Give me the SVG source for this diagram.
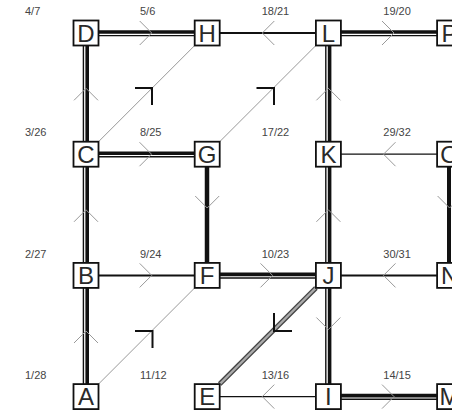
<svg xmlns="http://www.w3.org/2000/svg" width="452" height="412" viewBox="0 0 452 412">
<style>
.box{fill:#fff;stroke:#111;stroke-width:1.8}
.nl{font-family:"Liberation Sans",Arial,sans-serif;font-size:24px;fill:#2a2a2a;text-anchor:middle}
.lb{font-family:"Liberation Sans",Arial,sans-serif;font-size:11px;fill:#444}
.thk{stroke:#111;stroke-width:3.6;fill:none}
.thn{stroke:#111;stroke-width:1.4;fill:none}
.s2{stroke:#111;stroke-width:2;fill:none}
.s1{stroke:#111;stroke-width:1.2;fill:none}
.bold{stroke:#111;stroke-width:4.5;fill:none}
.gd{stroke:#999;stroke-width:1;fill:none}
.ch{stroke:#999;stroke-width:1;fill:none}
.bm{stroke:#111;stroke-width:2;fill:none}
</style>
<rect width="452" height="412" fill="#fff"/>
<g id="labels">
<text class="lb" x="25" y="15">4/7</text>
<text class="lb" x="140" y="15">5/6</text>
<text class="lb" x="261.7" y="15">18/21</text>
<text class="lb" x="383.3" y="15">19/20</text>
<text class="lb" x="25" y="136.4">3/26</text>
<text class="lb" x="140" y="136.4">8/25</text>
<text class="lb" x="261.7" y="136.4">17/22</text>
<text class="lb" x="383.3" y="136.4">29/32</text>
<text class="lb" x="25" y="257.8">2/27</text>
<text class="lb" x="140" y="257.8">9/24</text>
<text class="lb" x="261.7" y="257.8">10/23</text>
<text class="lb" x="383.3" y="257.8">30/31</text>
<text class="lb" x="25" y="379">1/28</text>
<text class="lb" x="140" y="379">11/12</text>
<text class="lb" x="261.7" y="379">13/16</text>
<text class="lb" x="383.3" y="379">14/15</text>
</g>
<g id="connectors">
<!-- double horizontal -->
<g id="e-D-H"><line class="thk" x1="86" y1="32" x2="207.2" y2="32"/><line class="thn" x1="86" y1="35.6" x2="207.2" y2="35.6"/><polyline class="ch" points="139.7,21 151.7,33 139.7,45"/></g>
<g id="e-L-P"><line class="thk" x1="328.4" y1="32" x2="449.6" y2="32"/><line class="thn" x1="328.4" y1="35.6" x2="449.6" y2="35.6"/><polyline class="ch" points="382,21 394,33 382,45"/></g>
<g id="e-C-G"><line class="thk" x1="86" y1="153.2" x2="207.2" y2="153.2"/><line class="thn" x1="86" y1="156.8" x2="207.2" y2="156.8"/><polyline class="ch" points="139.5,142.2 151.5,154.2 139.5,166.2"/></g>
<g id="e-F-J"><line class="thk" x1="207.2" y1="274.4" x2="328.4" y2="274.4"/><line class="thn" x1="207.2" y1="278" x2="328.4" y2="278"/><polyline class="ch" points="260.5,263.4 272.5,275.4 260.5,287.4"/></g>
<g id="e-I-M"><line class="thk" x1="328.4" y1="395.6" x2="449.6" y2="395.6"/><line class="thn" x1="328.4" y1="399.2" x2="449.6" y2="399.2"/><polyline class="ch" points="382,384.6 394,396.6 382,408.6"/></g>
<!-- double vertical -->
<g id="e-C-D"><line class="thn" x1="83.4" y1="33" x2="83.4" y2="154.2"/><line class="thk" x1="87.2" y1="33" x2="87.2" y2="154.2"/><polyline class="ch" points="74,100.3 86,88.3 98,100.3"/></g>
<g id="e-B-C"><line class="thn" x1="83.4" y1="154.2" x2="83.4" y2="275.4"/><line class="thk" x1="87.2" y1="154.2" x2="87.2" y2="275.4"/><polyline class="ch" points="74,221.8 86,209.8 98,221.8"/></g>
<g id="e-A-B"><line class="thn" x1="83.4" y1="275.4" x2="83.4" y2="396.6"/><line class="thk" x1="87.2" y1="275.4" x2="87.2" y2="396.6"/><polyline class="ch" points="74,343 86,331 98,343"/></g>
<g id="e-K-L"><line class="thn" x1="325.8" y1="33" x2="325.8" y2="154.2"/><line class="thk" x1="329.6" y1="33" x2="329.6" y2="154.2"/><polyline class="ch" points="316.4,100.3 328.4,88.3 340.4,100.3"/></g>
<g id="e-J-K"><line class="thn" x1="325.8" y1="154.2" x2="325.8" y2="275.4"/><line class="thk" x1="329.6" y1="154.2" x2="329.6" y2="275.4"/><polyline class="ch" points="316.4,221.8 328.4,209.8 340.4,221.8"/></g>
<g id="e-J-I"><line class="thn" x1="325.8" y1="275.4" x2="325.8" y2="396.6"/><line class="thk" x1="329.6" y1="275.4" x2="329.6" y2="396.6"/><polyline class="ch" points="316.4,317.5 328.4,329.5 340.4,317.5"/></g>
<!-- thick single -->
<g id="e-G-F"><line class="bold" x1="207" y1="154.2" x2="207" y2="275.4"/><polyline class="ch" points="195.2,196 207.2,208 219.2,196"/></g>
<g id="e-O-N"><line class="bold" x1="449" y1="154.2" x2="449" y2="275.4" style="stroke-width:4"/><polyline class="ch" points="437.6,196 449.6,208 461.6,196"/></g>
<!-- single -->
<g id="e-L-H"><line class="s2" x1="207.2" y1="33" x2="328.4" y2="33"/><polyline class="ch" points="274.3,21 262.3,33 274.3,45"/></g>
<g id="e-O-K"><line class="s1" x1="328.4" y1="154.2" x2="449.6" y2="154.2"/><polyline class="ch" points="395.5,142.2 383.5,154.2 395.5,166.2"/></g>
<g id="e-B-F"><line class="s2" x1="86" y1="275.4" x2="207.2" y2="275.4"/><polyline class="ch" points="139.7,263.4 151.7,275.4 139.7,287.4"/></g>
<g id="e-N-J"><line class="s2" x1="328.4" y1="275.4" x2="449.6" y2="275.4"/><polyline class="ch" points="395.5,263.4 383.5,275.4 395.5,287.4"/></g>
<g id="e-I-E"><line class="s1" x1="207.2" y1="396.6" x2="328.4" y2="396.6"/><polyline class="ch" points="274.3,384.6 262.3,396.6 274.3,408.6"/></g>
<!-- diagonals -->
<g id="e-C-H"><line class="gd" x1="98.5" y1="141.7" x2="194.7" y2="45.5"/><polyline class="bm" points="135,88 152,88 152,105"/></g>
<g id="e-G-L"><line class="gd" x1="219.7" y1="141.7" x2="315.9" y2="45.5"/><polyline class="bm" points="256.5,88 274,88 274,105"/></g>
<g id="e-A-F"><line class="gd" x1="98.5" y1="384.1" x2="194.7" y2="287.9"/><polyline class="bm" points="135,331 152.5,331 152.5,348"/></g>
<g id="e-J-E"><line x1="219.7" y1="384.1" x2="315.9" y2="287.9" stroke="#444" stroke-width="5"/><line x1="219.7" y1="384.1" x2="315.9" y2="287.9" stroke="#aaa" stroke-width="2.2"/><polyline class="bm" points="274,313 274,331 292,331"/></g>
</g>
<g id="D"><rect class="box" x="73.5" y="20.5" width="25" height="25"/><text class="nl" x="86" y="41.6">D</text></g>
<g id="H"><rect class="box" x="194.7" y="20.5" width="25" height="25"/><text class="nl" x="207.2" y="41.6">H</text></g>
<g id="L"><rect class="box" x="315.9" y="20.5" width="25" height="25"/><text class="nl" x="328.4" y="41.6">L</text></g>
<g id="P"><rect class="box" x="437.1" y="20.5" width="25" height="25"/><text class="nl" x="449.6" y="41.6">P</text></g>
<g id="C"><rect class="box" x="73.5" y="141.7" width="25" height="25"/><text class="nl" x="86" y="162.8">C</text></g>
<g id="G"><rect class="box" x="194.7" y="141.7" width="25" height="25"/><text class="nl" x="207.2" y="162.8">G</text></g>
<g id="K"><rect class="box" x="315.9" y="141.7" width="25" height="25"/><text class="nl" x="328.4" y="162.8">K</text></g>
<g id="O"><rect class="box" x="437.1" y="141.7" width="25" height="25"/><text class="nl" x="449.6" y="162.8">O</text></g>
<g id="B"><rect class="box" x="73.5" y="262.9" width="25" height="25"/><text class="nl" x="86" y="284">B</text></g>
<g id="F"><rect class="box" x="194.7" y="262.9" width="25" height="25"/><text class="nl" x="207.2" y="284">F</text></g>
<g id="J"><rect class="box" x="315.9" y="262.9" width="25" height="25"/><text class="nl" x="328.4" y="284">J</text></g>
<g id="N"><rect class="box" x="437.1" y="262.9" width="25" height="25"/><text class="nl" x="449.6" y="284">N</text></g>
<g id="A"><rect class="box" x="73.5" y="384.1" width="25" height="25"/><text class="nl" x="86" y="405.2">A</text></g>
<g id="E"><rect class="box" x="194.7" y="384.1" width="25" height="25"/><text class="nl" x="207.2" y="405.2">E</text></g>
<g id="I"><rect class="box" x="315.9" y="384.1" width="25" height="25"/><text class="nl" x="328.4" y="405.2">I</text></g>
<g id="M"><rect class="box" x="437.1" y="384.1" width="25" height="25"/><text class="nl" x="449.6" y="405.2">M</text></g>
</svg>
